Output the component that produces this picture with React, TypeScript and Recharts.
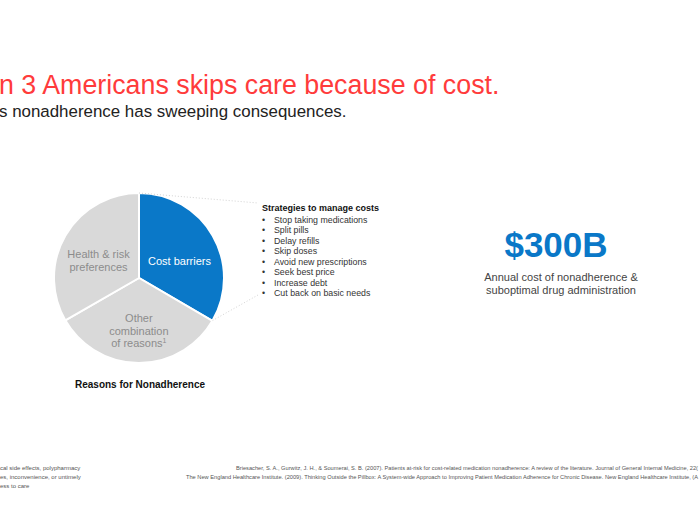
import React from 'react'
import { PieChart, Pie, Cell } from 'recharts'

const reasons = ['Cost barriers', 'Other combination of reasons', 'Health & risk preferences']
const shares = [33.4, 33.3, 33.3]
const sliceLines = [['Cost barriers'], ['Other', 'combination', 'of reasons'], ['Health & risk', 'preferences']]
const strategies = [
  'Stop taking medications',
  'Split pills',
  'Delay refills',
  'Skip doses',
  'Avoid new prescriptions',
  'Seek best price',
  'Increase debt',
  'Cut back on basic needs',
]
const footLeft = ['cal side effects, polypharmacy', 'es, inconvenience, or untimely', 'ess to care']
const footRight = [
  'Briesacher, S. A., Gurwitz, J. H., & Soumerai, S. B. (2007). Patients at-risk for cost-related medication nonadherence: A review of the literature. Journal of General Internal Medicine, 22(',
  'The New England Healthcare Institute. (2009). Thinking Outside the Pillbox: A System-wide Approach to Improving Patient Medication Adherence for Chronic Disease. New England Healthcare Institute, (A',
]

const BLUE = '#0a78c8'
const GREY = '#d9d9d9'
const COLORS = [BLUE, GREY, GREY]
const FONT = '"Liberation Sans", Arial, Helvetica, sans-serif'

const CX = 139
const CY = 278
const R = 85

const data = reasons.map((name, i) => ({ name, value: shares[i] }))

const polar = (deg: number, r: number) => {
  const rad = (deg * Math.PI) / 180
  return { x: CX + r * Math.cos(rad), y: CY - r * Math.sin(rad) }
}

const renderLabel = (props: any) => {
  const { cx, cy, midAngle, outerRadius, index } = props
  const rad = (midAngle * Math.PI) / 180
  const r = outerRadius * 0.55
  const x = cx + r * Math.cos(rad)
  const y = cy - r * Math.sin(rad) + 6
  const lines = sliceLines[index]
  const lh = 12.5
  const top = y - ((lines.length - 1) * lh) / 2 + 4
  return (
    <text
      x={x}
      y={top}
      textAnchor="middle"
      fill={index === 0 ? '#ffffff' : '#8c8c8c'}
      fontSize={11}
      fontFamily={FONT}
    >
      {lines.map((l, i) => (
        <tspan key={i} x={x} y={top + i * lh}>
          {l}
          {index === 1 && i === lines.length - 1 ? (
            <tspan fontSize={7} dy={-4}>1</tspan>
          ) : null}
        </tspan>
      ))}
    </text>
  )
}

export default function App() {
  const pTop = polar(90, R)
  const pEnd = polar(-30, R)
  return (
    <div style={{ position: 'absolute', left: 0, top: 0, width: 700, height: 525, overflow: 'hidden', background: '#fff' }}>
      <div style={{ position: 'absolute', left: 0, top: 0 }}>
        <PieChart width={700} height={525} margin={{ top: 0, right: 0, bottom: 0, left: 0 }}>
          <Pie
            data={data}
            dataKey="value"
            nameKey="name"
            cx={CX}
            cy={CY}
            outerRadius={R}
            startAngle={90}
            endAngle={-270}
            stroke="#ffffff"
            strokeWidth={2}
            label={renderLabel}
            labelLine={false}
            isAnimationActive={false}
          >
            {data.map((_, idx) => (
              <Cell key={`cell-${idx}`} fill={COLORS[idx]} />
            ))}
          </Pie>
        </PieChart>
      </div>
      <svg width={700} height={525} style={{ position: 'absolute', left: 0, top: 0, pointerEvents: 'none' }} fontFamily={FONT}>
        <text x={-1} y={94} fontSize={26.8} fill="#ff3b3b">n 3 Americans skips care because of cost.</text>
        <text x={-1} y={117} fontSize={16.9} fill="#222">s nonadherence has sweeping consequences.</text>

        <line x1={pTop.x} y1={pTop.y} x2={258} y2={203} stroke="#c8c8c8" strokeWidth={0.8} strokeDasharray="1 2" />
        <line x1={pEnd.x} y1={pEnd.y} x2={258} y2={295} stroke="#c8c8c8" strokeWidth={0.8} strokeDasharray="1 2" />

        <text x={262} y={211} fontSize={9} fontWeight="bold" fill="#111">Strategies to manage costs</text>
        {strategies.map((s, i) => (
          <g key={s}>
            <text x={262} y={222.5 + i * 10.5} fontSize={8.8} fill="#333">•</text>
            <text x={274} y={222.5 + i * 10.5} fontSize={8.8} fill="#333">{s}</text>
          </g>
        ))}

        <text x={75} y={388} fontSize={10} fontWeight="bold" fill="#111">Reasons for Nonadherence</text>

        <text x={556} y={257} fontSize={35} fontWeight="bold" fill={BLUE} textAnchor="middle">$300B</text>
        <text x={561} y={281} fontSize={11} fill="#444" textAnchor="middle">Annual cost of nonadherence &amp;</text>
        <text x={561} y={294} fontSize={11} fill="#444" textAnchor="middle">suboptimal drug administration</text>

        {footLeft.map((t, i) => (
          <text key={t} x={0} y={470 + i * 9} fontSize={6} fill="#555">{t}</text>
        ))}
        <text x={236} y={470} fontSize={6} fill="#555" textLength={462} lengthAdjust="spacingAndGlyphs">{footRight[0]}</text>
        <text x={186} y={479} fontSize={6} fill="#555" textLength={512} lengthAdjust="spacingAndGlyphs">{footRight[1]}</text>
      </svg>
    </div>
  )
}
